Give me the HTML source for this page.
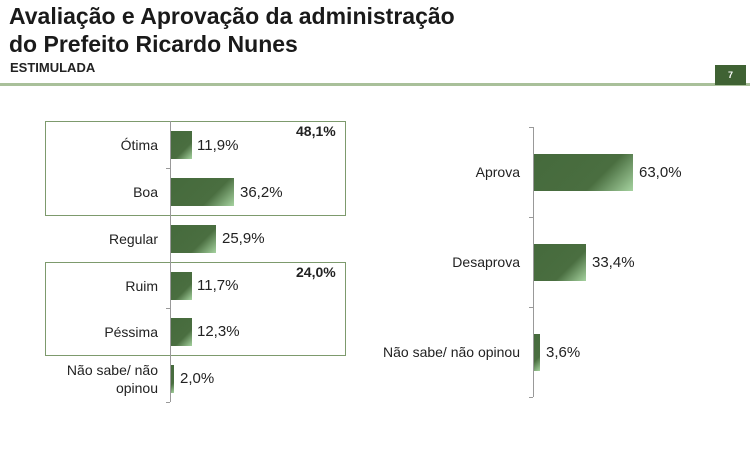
<!DOCTYPE html>
<html><head><meta charset="utf-8"><style>
body{margin:0;width:750px;height:450px;background:#fff;position:relative;overflow:hidden;font-family:"Liberation Sans",sans-serif;color:#222}
div{position:absolute}
.t{font-size:23px;font-weight:bold;left:9px;line-height:27px;color:#1a1a1a}
.bar{background:linear-gradient(135deg,#456a3c 0%,#4a6e40 65%,#a6d3a0 100%)}
.lab{font-size:14px;text-align:right;width:140px}
.v{font-size:15px}
.ax{background:#999;width:1px}
.tk{background:#999;height:1px;width:4px}
.box{border:1px solid #7d9a6d}
</style></head><body>
<div class="t" style="top:3px">Avaliação e Aprovação da administração</div>
<div class="t" style="top:31px">do Prefeito Ricardo Nunes</div>
<div style="left:10px;top:60px;font-size:13px;font-weight:bold">ESTIMULADA</div>
<div style="left:0;top:83px;width:750px;height:3px;background:#a9c09a"></div>
<div style="left:715px;top:65px;width:31px;height:20px;background:#3f6233;color:#fff;font-size:9px;font-weight:bold;text-align:center;line-height:20px">7</div>

<div class="box" style="left:45px;top:121px;width:299px;height:93px"></div>
<div class="box" style="left:45px;top:262px;width:299px;height:92px"></div>
<div style="left:296px;top:123px;font-size:14px;font-weight:bold">48,1%</div>
<div style="left:296px;top:264px;font-size:14px;font-weight:bold">24,0%</div>
<div class="ax" style="left:170px;top:121px;height:281px"></div>
<div class="tk" style="left:166px;top:168px"></div>
<div class="tk" style="left:166px;top:308px"></div>
<div class="tk" style="left:166px;top:402px"></div>

<div class="lab" style="left:18px;top:137px">Ótima</div>
<div class="bar" style="left:171px;top:131px;width:21px;height:28px"></div>
<div class="v" style="left:197px;top:137px">11,9%</div>
<div class="lab" style="left:18px;top:184px">Boa</div>
<div class="bar" style="left:171px;top:178px;width:63px;height:28px"></div>
<div class="v" style="left:240px;top:184px">36,2%</div>
<div class="lab" style="left:18px;top:231px">Regular</div>
<div class="bar" style="left:171px;top:225px;width:45px;height:28px"></div>
<div class="v" style="left:222px;top:230px">25,9%</div>
<div class="lab" style="left:18px;top:278px">Ruim</div>
<div class="bar" style="left:171px;top:272px;width:21px;height:28px"></div>
<div class="v" style="left:197px;top:277px">11,7%</div>
<div class="lab" style="left:18px;top:324px">Péssima</div>
<div class="bar" style="left:171px;top:318px;width:21px;height:28px"></div>
<div class="v" style="left:197px;top:323px">12,3%</div>
<div class="lab" style="left:18px;top:361px;line-height:18px">Não sabe/ não<br>opinou</div>
<div class="bar" style="left:171px;top:365px;width:3px;height:28px"></div>
<div class="v" style="left:180px;top:370px">2,0%</div>

<div class="ax" style="left:533px;top:127px;height:270px"></div>
<div class="tk" style="left:529px;top:127px"></div>
<div class="tk" style="left:529px;top:217px"></div>
<div class="tk" style="left:529px;top:307px"></div>
<div class="tk" style="left:529px;top:397px"></div>
<div class="lab" style="left:380px;top:164px">Aprova</div>
<div class="bar" style="left:534px;top:154px;width:99px;height:37px"></div>
<div class="v" style="left:639px;top:164px">63,0%</div>
<div class="lab" style="left:380px;top:254px">Desaprova</div>
<div class="bar" style="left:534px;top:244px;width:52px;height:37px"></div>
<div class="v" style="left:592px;top:254px">33,4%</div>
<div class="lab" style="left:320px;top:344px;width:200px">Não sabe/ não opinou</div>
<div class="bar" style="left:534px;top:334px;width:6px;height:37px"></div>
<div class="v" style="left:546px;top:344px">3,6%</div>
</body></html>
